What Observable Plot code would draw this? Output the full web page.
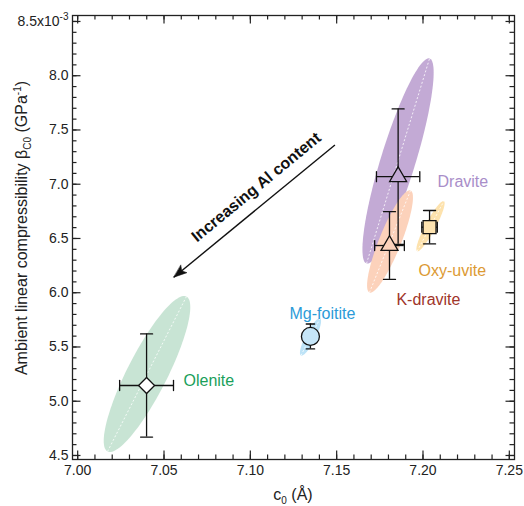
<!DOCTYPE html>
<html><head><meta charset="utf-8">
<script src="https://cdn.jsdelivr.net/npm/d3@7"></script>
<script src="https://cdn.jsdelivr.net/npm/@observablehq/plot@0.6"></script>
<style>body{margin:0;background:#fff}</style>
</head><body><div id="chart"></div>
<script>
// ---- data ----
const minerals   = ["Olenite", "Mg-foitite", "Dravite", "K-dravite", "Oxy-uvite"];
const c0         = [7.0399, 7.1348, 7.1856, 7.1806, 7.2038];
const c0Err      = [0.0156, 0.002, 0.01255, 0.0086, 0.0045];
const beta       = [5.145, 5.597, 7.07, 6.435, 6.604];
const betaErr    = [0.475, 0.115, 0.624, 0.312, 0.154];
// confidence ellipses: ends of the major axis and minor/major ratio
const ellLowX    = [7.0173, 7.1293, 7.1673, 7.1690, 7.1966];
const ellLowY    = [4.537, 5.4215, 6.2694, 6.0022, 6.383];
const ellHighX   = [7.0630, 7.1404, 7.2038, 7.1928, 7.2121];
const ellHighY   = [5.965, 5.7625, 8.1589, 6.9423, 6.8437];
const ellRatio   = [0.23, 0.24, 0.162, 0.2, 0.18];
// label anchors
const labelX     = [7.0613, 7.1227, 7.2084, 7.1846, 7.1974];
const labelY     = [5.191, 5.8086, 7.025, 5.9377, 6.205];
// arrow annotation
const arrowFrom  = [7.149, 7.362];
const arrowTo    = [7.0557, 6.143];
const noteText   = "Increasing Al content";
const notePos    = [7.1034, 6.973];
// ticks
const xTicksMajor = [7.00, 7.05, 7.10, 7.15, 7.20, 7.25];
const yTicksMajor = [4.5, 5.0, 5.5, 6.0, 6.5, 7.0, 7.5, 8.0, 8.5];
const xTicksMinor = d3.range(0, 26).map(i => +(7 + i * 0.01).toFixed(2));
const yTicksMinor = d3.range(0, 41).map(i => +(4.5 + i * 0.1).toFixed(1));

// ---- styles ----
const symbols      = ["diamond2", "circle", "triangle", "triangle", "square"];
const symbolR      = [7.2, 9, 6.3, 6.3, 7.3];
const pointFill    = ["#ffffff", "#c6e6f8", "#c3aad5", "#fcd2bb", "#fde3b0"];
const ellipseFill  = ["#c8e4d4", "#bde3f7", "#c3aad5", "#fcd2bb", "#fde2ad"];
const labelColor   = ["#1aa05a", "#2b9bd8", "#a98ec9", "#a0352a", "#dc9a33"];

const W = 524, H = 506, mL = 72, mR = 10, mT = 15, mB = 47;
const plotW = W - mL - mR, plotH = H - mT - mB;
const xDom = [6.997, 7.253], yDom = [4.463, 8.555];
const kx = plotW / (xDom[1] - xDom[0]), ky = plotH / (yDom[1] - yDom[0]);

const rows = minerals.map((name, i) => ({
  name, x: c0[i], y: beta[i], ex: c0Err[i], ey: betaErr[i], i
}));

function ellipsePoints(i) {
  const cx = (ellLowX[i] + ellHighX[i]) / 2, cy = (ellLowY[i] + ellHighY[i]) / 2;
  const ax = (ellHighX[i] - cx) * kx, ay = (ellHighY[i] - cy) * ky;
  const bx = -ay * ellRatio[i], by = ax * ellRatio[i];
  const pts = [];
  for (let k = 0; k < 120; k++) {
    const t = (k / 120) * 2 * Math.PI;
    pts.push({
      x: cx + (ax * Math.cos(t) + bx * Math.sin(t)) / kx,
      y: cy + (ay * Math.cos(t) + by * Math.sin(t)) / ky
    });
  }
  return pts;
}

const lineShape = {draw(ctx, l) { ctx.moveTo(0, 0); ctx.lineTo(0, -l); }};
const headShape = {draw(ctx, l) {
  ctx.moveTo(0, -l); ctx.lineTo(-4.8, 0); ctx.lineTo(0, -l * 0.22); ctx.lineTo(4.8, 0); ctx.closePath();
}};
const arrowRot = Math.atan2((arrowTo[0] - arrowFrom[0]) * kx, (arrowTo[1] - arrowFrom[1]) * ky) * 180 / Math.PI;

const ellOrder = [2, 3, 4, 1, 0];
const marks = [];
for (const i of ellOrder) {
  marks.push(Plot.line(ellipsePoints(i), {x: "x", y: "y", fill: ellipseFill[i], stroke: null, curve: "linear-closed"}));
  marks.push(Plot.link([i], {x1: j => ellLowX[j], y1: j => ellLowY[j], x2: j => ellHighX[j], y2: j => ellHighY[j],
    stroke: "white", strokeWidth: 0.8, strokeDasharray: "2,2"}));
}
// error bars
marks.push(Plot.ruleX(rows, {x: "x", y1: d => d.y - d.ey, y2: d => d.y + d.ey, stroke: "#111", strokeWidth: 1.3}));
marks.push(Plot.ruleY(rows, {y: "y", x1: d => d.x - d.ex, x2: d => d.x + d.ex, stroke: "#111", strokeWidth: 1.3}));
const capsV = rows.flatMap(d => [{x: d.x, y: d.y - d.ey, s: d.i === 1 ? 7 : 10}, {x: d.x, y: d.y + d.ey, s: d.i === 1 ? 7 : 10}]);
const capsH = rows.filter(d => d.i !== 1).flatMap(d => [{x: d.x - d.ex, y: d.y}, {x: d.x + d.ex, y: d.y}]);
marks.push(Plot.vector(capsV, {x: "x", y: "y", length: "s", rotate: 90, anchor: "middle", shape: lineShape, stroke: "#111", strokeWidth: 1.3}));
marks.push(Plot.vector(capsH, {x: "x", y: "y", length: 10, rotate: 0, anchor: "middle", shape: lineShape, stroke: "#111", strokeWidth: 1.3}));
// symbols
for (const d of rows) {
  marks.push(Plot.dot([d], {x: "x", y: "y", symbol: symbols[d.i], r: symbolR[d.i], fill: pointFill[d.i], stroke: "#111", strokeWidth: 1.3}));
}
// labels
for (const d of rows) {
  marks.push(Plot.text([d], {x: () => labelX[d.i], y: () => labelY[d.i], text: "name", fill: labelColor[d.i], fontSize: 16, textAnchor: "start"}));
}
// arrow + note
marks.push(Plot.link([0], {x1: () => arrowFrom[0], y1: () => arrowFrom[1], x2: () => arrowTo[0], y2: () => arrowTo[1], stroke: "#111", strokeWidth: 1.4}));
marks.push(Plot.vector([0], {x: () => arrowTo[0], y: () => arrowTo[1], length: 13, rotate: arrowRot, anchor: "end", shape: headShape, fill: "#111", stroke: "#111", strokeWidth: 0.5}));
marks.push(Plot.text([noteText], {x: () => notePos[0], y: () => notePos[1], text: d => d, rotate: -39.5, fontWeight: "bold", fontSize: 16, fill: "#111"}));
// frame ticks (inward, all sides)
const tk = (len) => plotH - len, tkw = (len) => plotW - len;
marks.push(Plot.tickX(xTicksMinor, {x: d => d, insetTop: tk(4.5), stroke: "#222", strokeWidth: 1.2}));
marks.push(Plot.tickX(xTicksMajor, {x: d => d, insetTop: tk(8.5), stroke: "#222", strokeWidth: 1.2}));
marks.push(Plot.tickX(xTicksMinor, {x: d => d, insetBottom: tk(4.5), stroke: "#222", strokeWidth: 1.2}));
marks.push(Plot.tickX(xTicksMajor, {x: d => d, insetBottom: tk(8.5), stroke: "#222", strokeWidth: 1.2}));
marks.push(Plot.tickY(yTicksMinor, {y: d => d, insetRight: tkw(4.5), stroke: "#222", strokeWidth: 1.2}));
marks.push(Plot.tickY(yTicksMajor, {y: d => d, insetRight: tkw(8.5), stroke: "#222", strokeWidth: 1.2}));
marks.push(Plot.tickY(yTicksMinor, {y: d => d, insetLeft: tkw(4.5), stroke: "#222", strokeWidth: 1.2}));
marks.push(Plot.tickY(yTicksMajor, {y: d => d, insetLeft: tkw(8.5), stroke: "#222", strokeWidth: 1.2}));
marks.push(Plot.frame({stroke: "#222", strokeWidth: 1.3}));
marks.push(Plot.axisX(xTicksMajor, {tickSize: 0, tickPadding: 6, tickFormat: d => d.toFixed(2), label: null, fontSize: 14, fill: "#222"}));
marks.push(Plot.axisY(yTicksMajor, {tickSize: 0, tickPadding: 4, tickFormat: d => d === 8.5 ? "8.5x10" : d.toFixed(1), label: null, fontSize: 14, fill: "#222"}));

const chart = Plot.plot({
  width: W, height: H,
  marginLeft: mL, marginRight: mR, marginTop: mT, marginBottom: mB,
  x: {domain: xDom},
  y: {domain: yDom},
  style: {fontFamily: "'Liberation Sans', Arial, sans-serif", background: "white", color: "#111"},
  marks
});
document.getElementById("chart").append(chart);

const svg = d3.select(chart);
svg.selectAll("text").filter(function() { return this.textContent === "8.5x10"; })
  .append("tspan").attr("font-size", 10).attr("dy", "-0.55em").text("-3");

// axis titles with sub/superscripts
const yt = svg.append("text")
  .attr("transform", "translate(27,228) rotate(-90)")
  .attr("text-anchor", "middle").attr("font-size", 16).attr("fill", "#222")
  .attr("font-family", "'Liberation Sans', Arial, sans-serif");
yt.append("tspan").text("Ambient linear compressibility β");
yt.append("tspan").attr("font-size", 10).attr("dy", 4).text("C0");
yt.append("tspan").attr("dy", -4).text(" (GPa");
yt.append("tspan").attr("font-size", 10).attr("dy", -6).text("-1");
yt.append("tspan").attr("dy", 6).text(")");

const xt = svg.append("text")
  .attr("x", 293).attr("y", 500)
  .attr("text-anchor", "middle").attr("font-size", 16).attr("fill", "#222")
  .attr("font-family", "'Liberation Sans', Arial, sans-serif");
xt.append("tspan").text("c");
xt.append("tspan").attr("font-size", 10).attr("dy", 4).text("0");
xt.append("tspan").attr("dy", -4).text(" (Å)");
</script>
</body></html>
